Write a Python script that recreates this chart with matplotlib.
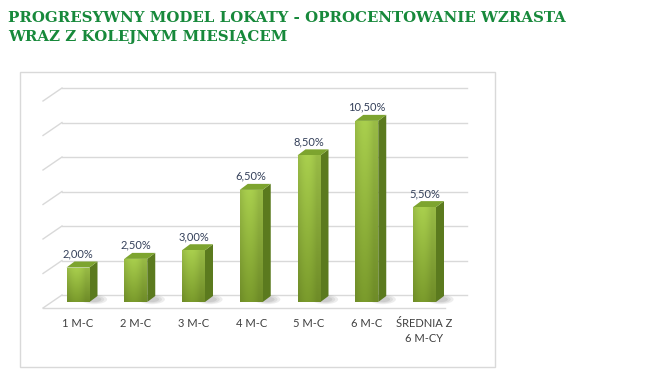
"""
Progresywny model lokaty - pseudo-3D column chart.
"""

import matplotlib
matplotlib.use("Agg")
import matplotlib.pyplot as plt
import numpy as np
from matplotlib.patches import Polygon, Rectangle, Ellipse
from matplotlib.colors import to_rgb

categories = ["1 M-C", "2 M-C", "3 M-C", "4 M-C", "5 M-C", "6 M-C", "ŚREDNIA Z\n6 M-CY"]
rates = [2.0, 2.5, 3.0, 6.5, 8.5, 10.5, 5.5]
grid_levels = [0, 2, 4, 6, 8, 10, 12]
title_lines = ["PROGRESYWNY MODEL LOKATY - OPROCENTOWANIE WZRASTA",
               "WRAZ Z KOLEJNYM MIESIĄCEM"]

W, H = 652, 383
TITLE_GREEN = "#17893b"
GRID = "#d9d9d9"


def fmt_pct(v):
    return f"{v:.2f}".replace(".", ",") + "%"


def main():
    fig = plt.figure(figsize=(W / 100, H / 100), dpi=100)
    fig.patch.set_facecolor("white")

    # chart frame
    fig.patches.append(Rectangle((20 / W, 1 - 367 / H), 475 / W, 295 / H,
                                 transform=fig.transFigure, fill=False,
                                 edgecolor="#d9d9d9", lw=1.0))

    for k, line in enumerate(title_lines):
        fig.text(8 / W, 1 - (22 + 19 * k) / H, line, ha="left", va="baseline",
                 fontsize=10.8, fontweight="bold", color=TITLE_GREEN,
                 family="DejaVu Serif")

    # axes: category i -> px 78 + 57.75 i ; value v -> px 302 - 17.25 v
    sx, sy = 57.75, 17.25
    L, R, T, B = 30, 480, 80, 310
    ax = fig.add_axes([L / W, 1 - B / H, (R - L) / W, (B - T) / H])
    ax.set_xlim((L - 78) / sx, (R - 78) / sx)
    ax.set_ylim((302 - B) / sy, (302 - T) / sy)
    ax.axis("off")

    # grid: back wall + diagonal into floor
    wy = 7 / sy
    bx0, bx1 = (62 - 78) / sx, (467 - 78) / sx
    fx0, fx1 = (43 - 78) / sx, (445 - 78) / sx
    dd = 13 / sy
    for g in grid_levels:
        ax.plot([bx0, bx1], [g + wy, g + wy], color=GRID, lw=1.0, zorder=1)
        ax.plot([fx0, bx0], [g + wy - dd, g + wy], color=GRID, lw=1.0, zorder=1)
    ax.plot([fx0, fx1], [wy - dd, wy - dd], color=GRID, lw=1.0, zorder=1)

    bw = 23 / sx
    ddx, ddy = 8 / sx, 6 / sy

    top_c = np.array(to_rgb("#a6cb4c"))
    bot_c = np.array(to_rgb("#78982b"))
    ny, nx = 64, 24
    tv = np.linspace(1, 0, ny)[:, None, None]
    base = tv * top_c + (1 - tv) * bot_c
    hx = np.linspace(0, 1, nx)
    hfac = 0.92 + 0.1 * np.sin(np.pi * np.clip(hx * 1.2, 0, 1))
    grad = np.clip(base * hfac[None, :, None], 0, 1)
    grad = np.broadcast_to(grad, (ny, nx, 3))

    for i, v in enumerate(rates):
        x0, x1 = i - bw / 2, i + bw / 2
        # shadow
        for k, a in enumerate([0.10, 0.10, 0.12]):
            ax.add_patch(Ellipse((x1 + 0.08, 0.15), 0.45 - 0.1 * k, 0.55 - 0.12 * k,
                                 facecolor="#555555", edgecolor="none", alpha=a, zorder=2))
        # side face
        ax.add_patch(Polygon([(x1, 0), (x1 + ddx, ddy), (x1 + ddx, v + ddy), (x1, v)],
                             closed=True, facecolor="#5b7a1e", edgecolor="none", zorder=3))
        # top face
        ax.add_patch(Polygon([(x0, v), (x1, v), (x1 + ddx, v + ddy), (x0 + ddx, v + ddy)],
                             closed=True, facecolor="#7da42f", edgecolor="none", zorder=3))
        # front face with gradient
        rect = Rectangle((x0, 0), bw, v, facecolor="none", edgecolor="none", zorder=4)
        ax.add_patch(rect)
        im = ax.imshow(grad, extent=(x0, x1, 0, v), aspect="auto",
                       interpolation="bilinear", zorder=4)
        im.set_clip_path(rect)

        ax.text(i, v + ddy + 0.12, fmt_pct(v), ha="center", va="bottom",
                fontsize=8, color="#34405a", family="Lato", zorder=5)
        ax.text(i, -0.95, categories[i], ha="center", va="top", fontsize=8,
                color="#404040", family="Lato", linespacing=1.45, zorder=5,
                clip_on=False)

    ax.set_xlim((L - 78) / sx, (R - 78) / sx)
    ax.set_ylim((302 - B) / sy, (302 - T) / sy)

    fig.savefig("out.png", dpi=100)
    plt.close(fig)


if __name__ == "__main__":
    main()
